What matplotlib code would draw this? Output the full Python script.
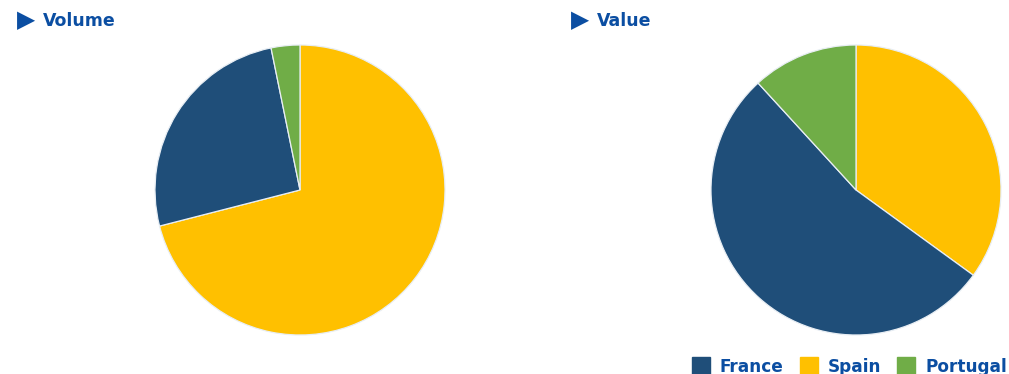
import matplotlib.pyplot as plt
from matplotlib.lines import Line2D

# data (shares, %), drawn clockwise from 12 o'clock
countries = ['Spain', 'France', 'Portugal']
volume = [71.0, 25.8, 3.2]
value = [35.0, 53.2, 11.8]
colors = {'France': '#1F4E79', 'Spain': '#FFC000', 'Portugal': '#70AD47'}
legend_order = ['France', 'Spain', 'Portugal']
titles = ['Volume', 'Value']

title_col = '#0B4EA2'

fig = plt.figure(figsize=(10.09, 3.74), dpi=100)

W, H = 1009, 374
boxes = [(155, 45, 290, 290), (711, 45, 290, 290)]
for (x, y, w, h), vals in zip(boxes, [volume, value]):
    ax = fig.add_axes([x / W, (H - y - h) / H, w / W, h / H])
    ax.pie(vals, colors=[colors[c] for c in countries], startangle=90,
           counterclock=False, radius=1.0,
           wedgeprops=dict(edgecolor='#e8eef4', linewidth=0.9))
    ax.set_xlim(-1.0, 1.0)
    ax.set_ylim(-1.0, 1.0)
    ax.set_aspect('equal')

# section titles
for xt, t in zip([17, 571], titles):
    fig.text(xt / W, 1 - 20 / H, '\u25B6', color=title_col, fontsize=17,
             va='center', ha='left')
    fig.text((xt + 26) / W, 1 - 21 / H, t, color=title_col, fontsize=12.5,
             va='center', ha='left', fontweight='bold')

handles = [Line2D([], [], marker='s', linestyle='none', markersize=13,
                  markerfacecolor=colors[c], markeredgecolor=colors[c])
           for c in legend_order]
fig.legend(handles, legend_order, loc='lower right', ncol=3, frameon=False,
           bbox_to_anchor=(1.013, -0.045), handlelength=1.0, handletextpad=0.6,
           columnspacing=1.0, prop=dict(size=12.2, weight='bold'),
           labelcolor=title_col)

fig.savefig('out.png', dpi=100)
